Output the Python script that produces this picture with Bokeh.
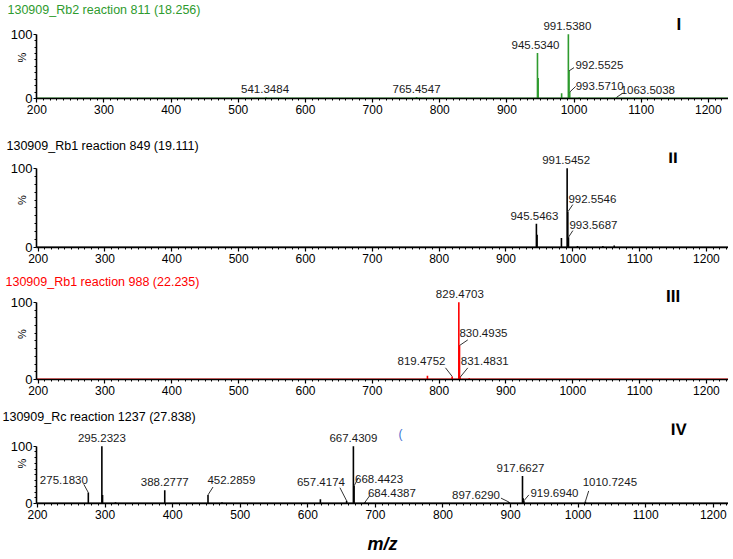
import math
from bokeh.plotting import figure
from bokeh.models import ColumnDataSource, Range1d, SingleIntervalTicker, FixedTicker, Label
from bokeh.layouts import column
from bokeh.embed import file_html
from bokeh.resources import INLINE
from bokeh.core.properties import value

# ---------------- data ----------------
TITLES = ["130909_Rb2 reaction 811 (18.256)",
          "130909_Rb1 reaction 849 (19.111)",
          "130909_Rb1 reaction 988 (22.235)",
          "130909_Rc reaction 1237 (27.838)"]
NUMERALS = ["I", "II", "III", "IV"]
X_TICK_INTERVAL = 100
Y_TICKS = [0, 100]
Y_MINOR = [10, 20, 30, 40, 50, 60, 70, 80, 90]

# Panel I (m/z, relative intensity %)
mz_1 = [541.3484, 765.4547, 945.5340, 946.5400, 981.5000, 991.5380, 992.5525, 993.5710, 1007.7000, 1063.5038]
int_1 = [2.0, 2.5, 71.0, 32.0, 8.0, 100.0, 43.0, 10.0, 1.5, 2.0]
lab_1 = [541.3484, 765.4547, 945.5340, 991.5380, 992.5525, 993.5710, 1063.5038]

# Panel II
mz_2 = [945.5463, 946.5500, 983.0000, 991.5452, 992.5546, 993.5687, 1007.0000, 1045.0000, 1062.0000]
int_2 = [30.0, 16.0, 12.0, 100.0, 45.0, 13.0, 2.0, 2.0, 2.5]
lab_2 = [945.5463, 991.5452, 992.5546, 993.5687]

# Panel III
mz_3 = [782.5000, 819.4752, 829.4703, 830.4935, 831.4831, 845.0000]
int_3 = [5.0, 4.0, 100.0, 44.0, 3.0, 1.5]
lab_3 = [819.4752, 829.4703, 830.4935, 831.4831]

# Panel IV
mz_4 = [275.1830, 295.2323, 296.2400, 315.4000, 388.2777, 452.2859, 473.0000, 618.6000,
        657.4174, 667.4309, 668.4423, 684.4387, 897.6290, 917.6627, 918.6700, 919.6940, 1010.7245]
int_4 = [19.0, 100.0, 15.0, 2.0, 23.0, 15.0, 2.0, 7.5,
         4.7, 100.0, 30.7, 2.0, 2.5, 48.0, 9.0, 4.7, 3.5]
lab_4 = [275.1830, 295.2323, 388.2777, 452.2859, 657.4174, 667.4309, 668.4423, 684.4387,
         897.6290, 917.6627, 919.6940, 1010.7245]

# ---------------- styles / layout ----------------
FONT = "Liberation Sans"
GREEN = "#2e9b2e"
RED = "#ff0000"
BLACK = "#000000"
LABEL_COLOR = "#1a1a1a"
W = 728
RIGHT = 0
TEXT_SHIFT = -4  # global vertical nudge of peak labels (px, down-positive)
ANCHORS = {"center": "bottom_center", "left": "bottom_left", "right": "bottom_right"}

# label styles: (leader dx px, leader dy px (up), align, x_offset px, y_offset px (down))
STY_1 = [(0, 0, "center", -1, 0), (0, 0, "center", 0, 0), (0, 0, "center", -2, 0), (0, 0, "center", -1, 0),
         (5, 3.3, "left", 1.4, 5.7), (6, 5.7, "left", 0, 8), (6, 4, "left", -2, 4.7)]
STY_2 = [(0, 0, "center", -2, 0), (0, 0, "center", -1, 0), (5, 7.4, "left", -4.4, 2.4), (4.4, 6.7, "left", -3.4, 2.4)]
STY_3 = [(-6.7, 8.7, "right", 0, 1), (0, 0, "center", 1, 0), (8.3, 5.7, "left", -8.3, 1.4), (7.6, 9.4, "left", -7, 1.1)]
STY_4 = [(-4.5, 8.4, "right", 4, 4), (0, 0, "center", 0, 0), (0, 0, "center", 0, 0), (5, 8, "left", -5.6, 1.4),
         (-6.7, 13.3, "right", 5, 2.3), (0, 0, "center", 0, 0), (4.3, 8.3, "left", -3.3, 9), (5, 7, "left", -2, 6),
         (-8, 4, "right", -1, 4.7), (0, 0, "center", -2, 0), (5, 6, "left", 1.6, 5.7), (3.3, 10.7, "left", -6, -1)]

PANELS = [
    dict(h=136, top=15, bottom=38, yhi=127.7, left=31, xr=(199.5, 1230.0),
         color=GREEN, tcolor=GREEN, num=(1156, 115.4)),
    dict(h=136, top=15, bottom=25, yhi=120.0, left=32, xr=(197.5, 1233.0),
         color=BLACK, tcolor=BLACK, num=(1150, 113.5)),
    dict(h=135, top=15, bottom=28, yhi=117.9, left=33, xr=(197.5, 1233.0),
         color=RED, tcolor=RED, num=(1150, 107.7)),
    dict(h=150, top=15, bottom=54, yhi=139.7, left=36, xr=(198.5, 1222.5),
         color=BLACK, tcolor=BLACK, num=(1149, 129.5)),
]


def make_panel(i, mzs, ints, labs, styles, cfg, last=False):
    left = cfg["left"]
    xmin, xmax = cfg["xr"]
    frame_w = W - left - RIGHT
    frame_h = cfg["h"] - cfg["top"] - cfg["bottom"]
    sx = (xmax - xmin) / frame_w
    sy = cfg["yhi"] / frame_h

    p = figure(width=W, height=cfg["h"], x_range=Range1d(xmin, xmax), y_range=Range1d(0, cfg["yhi"]),
               output_backend="svg", toolbar_location=None, title=TITLES[i],
               min_border_left=left, min_border_right=RIGHT,
               min_border_top=cfg["top"], min_border_bottom=cfg["bottom"])
    p.background_fill_color = None
    p.border_fill_color = "white"
    p.outline_line_color = None
    p.xgrid.visible = False
    p.ygrid.visible = False

    t = p.title
    t.align = "left"
    t.offset = 2 - left
    t.standoff = 0
    t.text_font = FONT
    t.text_font_size = "12.5px"
    t.text_font_style = "normal"
    t.text_color = cfg["tcolor"]

    xa = p.xaxis[0]
    xa.ticker = SingleIntervalTicker(interval=X_TICK_INTERVAL, num_minor_ticks=10)
    xa.major_tick_in = 0
    xa.major_tick_out = 4
    xa.minor_tick_in = 0
    xa.minor_tick_out = 2
    xa.axis_line_width = 1.6
    xa.major_tick_line_width = 1.2
    xa.major_label_standoff = 2
    xa.major_label_text_font = FONT
    xa.major_label_text_font_size = "12px"
    xa.major_label_text_color = BLACK
    if last:
        xa.axis_label = "m/z"
        xa.axis_label_text_font = FONT
        xa.axis_label_text_font_size = "18px"
        xa.axis_label_text_font_style = "bold italic"
        xa.axis_label_text_color = BLACK
        xa.axis_label_standoff = 12

    ya = p.yaxis[0]
    ya.ticker = FixedTicker(ticks=Y_TICKS, minor_ticks=Y_MINOR)
    ya.bounds = (0, 100)
    ya.major_tick_in = 0
    ya.major_tick_out = 3
    ya.minor_tick_in = 0
    ya.minor_tick_out = 2
    ya.axis_line_width = 1.6
    ya.major_label_standoff = 1
    ya.major_label_text_font = FONT
    ya.major_label_text_font_size = "13px"
    ya.major_label_text_color = BLACK
    ya.axis_label = "%"
    ya.axis_label_text_font = FONT
    ya.axis_label_text_font_size = "11px"
    ya.axis_label_text_font_style = "normal"
    ya.axis_label_text_color = BLACK
    ya.axis_label_standoff = -20

    color = cfg["color"]
    # baseline of the spectrum
    p.segment(x0=[xmin], y0=[0], x1=[xmax], y1=[0], line_color=color, line_width=2)
    # sticks
    src = ColumnDataSource(dict(mz=mzs, y0=[0] * len(mzs), inten=ints))
    p.segment(x0="mz", y0="y0", x1="mz", y1="inten", source=src, line_color=color, line_width=1.6)

    # labels + leaders
    lookup = dict(zip(mzs, ints))
    groups = {}
    l0x, l0y, l1x, l1y = [], [], [], []
    for m, st in zip(labs, styles):
        ldx, ldy, align, dx, dy = st
        inten = lookup[m]
        ex = m + ldx * sx
        ey = inten + ldy * sy
        if ldx != 0 or ldy != 0:
            l0x.append(m); l0y.append(inten); l1x.append(ex); l1y.append(ey)
        g = groups.setdefault(align, dict(x=[], y=[], text=[], xo=[], yo=[]))
        g["x"].append(ex); g["y"].append(ey); g["text"].append(f"{m:.4f}")
        g["xo"].append(dx); g["yo"].append(dy + TEXT_SHIFT)
    if l0x:
        p.segment(x0=l0x, y0=l0y, x1=l1x, y1=l1y, line_color="#333333", line_width=1)
    for align, g in groups.items():
        p.text(x="x", y="y", text="text", source=ColumnDataSource(g), text_align=align,
               anchor=ANCHORS[align],
               x_offset="xo", y_offset="yo", text_baseline="bottom", text_font=value(FONT),
               text_font_size="11.5px", text_color=LABEL_COLOR)

    # panel numeral
    nx, ny = cfg["num"]
    p.add_layout(Label(x=nx, y=ny, text=NUMERALS[i], text_align="center", text_baseline="middle",
                       text_font=FONT, text_font_size="17px", text_font_style="bold", text_color=BLACK))
    return p


p1 = make_panel(0, mz_1, int_1, lab_1, STY_1, PANELS[0])
p2 = make_panel(1, mz_2, int_2, lab_2, STY_2, PANELS[1])
p3 = make_panel(2, mz_3, int_3, lab_3, STY_3, PANELS[2])
p4 = make_panel(3, mz_4, int_4, lab_4, STY_4, PANELS[3], last=True)

# stray blue mark visible in the original figure
p4.add_layout(Label(x=737, y=122, text="(", text_align="center", text_baseline="middle",
                    text_font=FONT, text_font_size="12px", text_color="#3d6fd1"))

layout = column(p1, p2, p3, p4, spacing=0)
open("out.html", "w").write(file_html(layout, INLINE))
